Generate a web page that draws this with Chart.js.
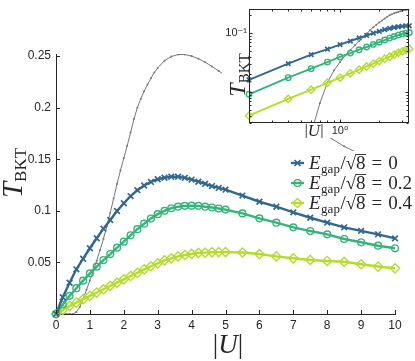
<!DOCTYPE html>
<html>
<head>
<meta charset="utf-8">
<script src="https://cdn.jsdelivr.net/npm/chart.js@4/dist/chart.umd.min.js"></script>
<style>
  body { margin: 0; background: #fff; }
  #box { position: relative; width: 415px; height: 361px; }
  canvas { position: absolute; top: 0; }
  #main { left: 0; }
  #inset { left: 222px; background: #fff; }
</style>
</head>
<body>
<div id="box">
  <canvas id="main" width="415" height="361"></canvas>
  <canvas id="inset" width="193" height="138"></canvas>
</div>
<script>
// |U| grid of the three gap series
const U_VALUES = [0, 0.2, 0.4, 0.6, 0.8, 1.0, 1.2, 1.4, 1.6, 1.8, 2.0, 2.2, 2.4, 2.6, 2.8, 3.0, 3.2, 3.4,
  3.6, 3.8, 4.0, 4.2, 4.4, 4.6, 4.8, 5.0, 5.5, 6.0, 6.5, 7.0, 7.5, 8.0, 8.5, 9.0, 9.5, 10.0];
const T_GAP_0 = [0, 0.0162, 0.0303, 0.0433, 0.0536, 0.0637, 0.0734, 0.0827, 0.0911, 0.0998, 0.1073, 0.1143,
  0.1200, 0.1245, 0.1280, 0.1306, 0.1321, 0.1330, 0.1330, 0.1320, 0.1303, 0.1282, 0.1262, 0.1240, 0.1222,
  0.1205, 0.1148, 0.1088, 0.1040, 0.0985, 0.0933, 0.0885, 0.0840, 0.0805, 0.0772, 0.0733];
const T_GAP_02 = [0, 0.0092, 0.0176, 0.0250, 0.0323, 0.0394, 0.0459, 0.0523, 0.0581, 0.0643, 0.0701, 0.0763,
  0.0822, 0.0875, 0.0925, 0.0968, 0.1000, 0.1025, 0.1040, 0.1048, 0.1050, 0.1048, 0.1040, 0.1032, 0.1022,
  0.1012, 0.0975, 0.0927, 0.0885, 0.0840, 0.0804, 0.0772, 0.0727, 0.0695, 0.0662, 0.0637];
const T_GAP_04 = [0, 0.0040, 0.0077, 0.0110, 0.0144, 0.0176, 0.0208, 0.0240, 0.0272, 0.0304, 0.0336, 0.0368,
  0.0398, 0.0432, 0.0463, 0.0490, 0.0520, 0.0540, 0.0558, 0.0572, 0.0582, 0.0592, 0.0595, 0.0598, 0.0600,
  0.0600, 0.0596, 0.0581, 0.0558, 0.0540, 0.0524, 0.0514, 0.0506, 0.0482, 0.0460, 0.0443];
// thin grey curve
const U_REF = [0, 0.1, 0.2, 0.3, 0.4, 0.5, 0.6, 0.7, 0.8, 0.9, 1.0, 1.1, 1.2, 1.3, 1.4, 1.5, 1.6, 1.7, 1.8, 1.9,
  2.0, 2.1, 2.2, 2.3, 2.4, 2.5, 2.6, 2.7, 2.8, 2.9, 3.0, 3.2, 3.4, 3.6, 3.8, 4.0, 4.2, 4.4, 4.6, 4.8, 5.0,
  5.5, 6.0, 6.5, 7.0, 7.5, 8.0, 8.5, 9.0, 9.5, 10.0];
const T_REF = [0, 0, 0, 0, 0, 0, 0.002, 0.0065, 0.0145, 0.0235, 0.0325, 0.042, 0.0515, 0.062, 0.073, 0.085,
  0.098, 0.112, 0.126, 0.139, 0.151, 0.163, 0.176, 0.189, 0.200, 0.2085, 0.216, 0.2225, 0.2285, 0.234, 0.2385,
  0.2455, 0.2495, 0.2515, 0.2515, 0.2500, 0.2475, 0.2440, 0.2400, 0.2355, 0.2310, 0.2205, 0.2105, 0.2010,
  0.1920, 0.1830, 0.1725, 0.1625, 0.1545, 0.1475, 0.1410];
const GAP_LABELS = ['0', '0.2', '0.4'];
const X_TICKS = [0, 1, 2, 3, 4, 5, 6, 7, 8, 9, 10];
const Y_TICKS = [0.05, 0.1, 0.15, 0.2, 0.25];
const INSET_X_TICKS = [1];
const INSET_X_LABELS = ['10\u2070'];
const INSET_Y_TICKS = [0.1];
const INSET_Y_LABELS = ['10\u207B\u00B9'];

const INK = '#262626';
const COLORS = ['#33678f', '#35b47a', '#b3dc2c'];
const GREY = '#777777';
const SERIF = '"Liberation Serif", "DejaVu Serif", serif';
const SANS = '"Liberation Sans", "DejaVu Sans", sans-serif';
const MARKERS = [
  { style: 'crossRot', r: 4.0, bw: 1.7 },
  { style: 'circle', r: 3.4, bw: 1.4 },
  { style: 'rectRot', r: 4.6, bw: 1.4 }
];

function pts(xs, ys, keep) {
  return xs.map((x, i) => ({ x: x, y: ys[i] })).filter(p => !keep || keep(p));
}

function seriesSets(keep, k) {
  const sets = [T_GAP_0, T_GAP_02, T_GAP_04].map((ys, i) => ({
    data: pts(U_VALUES, ys, keep),
    borderColor: COLORS[i],
    borderWidth: 2.4 * k,
    pointStyle: MARKERS[i].style,
    pointRadius: MARKERS[i].r * k,
    pointBorderWidth: MARKERS[i].bw,
    pointBorderColor: COLORS[i],
    pointBackgroundColor: 'rgba(0,0,0,0)',
    clip: false
  }));
  sets.push({
    data: pts(U_REF, T_REF, keep),
    borderColor: GREY,
    borderWidth: 1,
    pointRadius: 1,
    pointBorderWidth: 0,
    pointBackgroundColor: GREY
  });
  return sets;
}

function seg(ctx, x1, y1, x2, y2) {
  ctx.beginPath(); ctx.moveTo(x1, y1); ctx.lineTo(x2, y2); ctx.stroke();
}

function put(ctx, s, font, x, y) {
  ctx.font = font;
  ctx.fillText(s, x, y);
  return x + ctx.measureText(s).width;
}

function runsWidth(ctx, runs) {
  return runs.reduce((w, r) => { ctx.font = r[1]; return w + ctx.measureText(r[0]).width; }, 0);
}

// draw text pieces [text, font, dy] centred on cx
function drawRuns(ctx, runs, cx, base) {
  let x = cx - runsWidth(ctx, runs) / 2;
  runs.forEach(r => { x = put(ctx, r[0], r[1], x, base + r[2]); });
}

function marker(ctx, i, x, y, r) {
  ctx.strokeStyle = COLORS[i];
  ctx.lineWidth = MARKERS[i].bw;
  ctx.beginPath();
  if (i === 0) {
    const d = r * 0.75;
    ctx.moveTo(x - d, y - d); ctx.lineTo(x + d, y + d);
    ctx.moveTo(x - d, y + d); ctx.lineTo(x + d, y - d);
  } else if (i === 1) {
    ctx.arc(x, y, r, 0, Math.PI * 2);
  } else {
    ctx.moveTo(x, y - r); ctx.lineTo(x + r, y); ctx.lineTo(x, y + r); ctx.lineTo(x - r, y); ctx.closePath();
  }
  ctx.stroke();
}

function legendText(ctx, x, base, value) {
  const big = '19px ' + SERIF;
  ctx.fillStyle = INK;
  x = put(ctx, 'E', 'italic ' + big, x, base);
  x = put(ctx, 'gap', '13px ' + SERIF, x + 0.5, base + 4);
  x = put(ctx, '/', big, x + 0.5, base);
  x = put(ctx, '\u221A', big, x, base);
  ctx.font = big;
  const top = Math.round(base - ctx.measureText('\u221A').actualBoundingBoxAscent) + 0.5;
  const x8 = x;
  x = put(ctx, '8', big, x, base);
  ctx.strokeStyle = INK; ctx.lineWidth = 0.9;
  seg(ctx, x8 - 0.5, top, x + 0.5, top);
  x = put(ctx, '=', big, x + 6, base);
  put(ctx, value, big, x + 6, base);
}

const mainDecor = {
  id: 'mainDecor',
  afterDraw(chart) {
    const { ctx, chartArea: a, scales: { x, y } } = chart;
    ctx.save();
    ctx.strokeStyle = INK; ctx.lineWidth = 1;
    X_TICKS.forEach(v => { const p = Math.round(x.getPixelForValue(v)) + 0.5; seg(ctx, p, a.bottom, p, a.bottom - 4); });
    Y_TICKS.forEach(v => { const p = Math.round(y.getPixelForValue(v)) + 0.5; seg(ctx, a.left, p, a.left + 4, p); });

    ctx.fillStyle = INK; ctx.textAlign = 'left'; ctx.textBaseline = 'alphabetic';
    drawRuns(ctx, [['|', '27px ' + SERIF, 0], ['U', 'italic 27px ' + SERIF, 0], ['|', '27px ' + SERIF, 0]], 228, 353);
    ctx.save();
    ctx.translate(22, 173);
    ctx.rotate(-Math.PI / 2);
    drawRuns(ctx, [['T', 'italic 29px ' + SERIF, 0], ['BKT', '17px ' + SERIF, 4]], 0, 0);
    ctx.restore();

    // legend
    ctx.fillStyle = '#fff';
    ctx.fillRect(286, 151, 129, 57);
    GAP_LABELS.forEach((lab, i) => {
      const cy = 163 + 20 * i;
      ctx.strokeStyle = COLORS[i]; ctx.lineWidth = 2.4;
      seg(ctx, 291, cy, 304, cy);
      marker(ctx, i, 297.5, cy, MARKERS[i].r);
      legendText(ctx, 309, cy + 6, lab);
    });
    ctx.restore();
  }
};

function logTicks(min, max) {
  const out = [];
  for (let e = Math.floor(Math.log10(min)); e <= Math.ceil(Math.log10(max)); e++) {
    for (let m = 1; m < 10; m++) {
      const v = m * Math.pow(10, e);
      if (v >= min * 0.999 && v <= max * 1.001) out.push({ v: v, major: m === 1 });
    }
  }
  return out;
}

const insetDecor = {
  id: 'insetDecor',
  afterDraw(chart) {
    const { ctx, chartArea: a, scales: { x, y } } = chart;
    ctx.save();
    ctx.strokeStyle = INK; ctx.lineWidth = 1;
    const L = Math.round(a.left) + 0.5, R = Math.round(a.right) - 0.5;
    const T = Math.round(a.top) + 0.5, B = Math.round(a.bottom) - 0.5;
    ctx.strokeRect(L, T, R - L, B - T);
    logTicks(x.min, x.max).forEach(t => {
      const p = Math.round(x.getPixelForValue(t.v)) + 0.5, n = t.major ? 3 : 2;
      seg(ctx, p, B, p, B - n); seg(ctx, p, T, p, T + n);
    });
    logTicks(y.min, y.max).forEach(t => {
      const p = Math.round(y.getPixelForValue(t.v)) + 0.5, n = t.major ? 3 : 2;
      seg(ctx, L, p, L + n, p); seg(ctx, R, p, R - n, p);
    });

    ctx.fillStyle = INK; ctx.textAlign = 'left'; ctx.textBaseline = 'alphabetic';
    drawRuns(ctx, [['|', '17px ' + SERIF, 0], ['U', 'italic 17px ' + SERIF, 0], ['|', '17px ' + SERIF, 0]], 92, 136);
    ctx.save();
    ctx.translate(23, 75);
    ctx.rotate(-Math.PI / 2);
    drawRuns(ctx, [['T', 'italic 24px ' + SERIF, 0], ['BKT', '15px ' + SERIF, 3.5]], 0, 0);
    ctx.restore();
    ctx.restore();
  }
};

const tickFont = { family: SANS, size: 12 };

new Chart(document.getElementById('main'), {
  type: 'line',
  data: { datasets: seriesSets(null, 1) },
  options: {
    responsive: false, animation: false, devicePixelRatio: 1,
    layout: { padding: { top: 54, right: 20, left: 0, bottom: 0 } },
    plugins: { legend: { display: false }, tooltip: { enabled: false } },
    scales: {
      x: {
        type: 'linear', min: 0, max: 10,
        afterBuildTicks: s => { s.ticks = X_TICKS.map(v => ({ value: v })); },
        afterFit: s => { s.height = 47; },
        ticks: { font: tickFont, color: INK, padding: 4, autoSkip: false, maxRotation: 0, callback: v => String(v) },
        grid: { display: false, drawTicks: false },
        border: { color: INK, width: 1 }
      },
      y: {
        type: 'linear', min: 0, max: 0.252,
        afterBuildTicks: s => { s.ticks = Y_TICKS.map(v => ({ value: v })); },
        afterFit: s => { s.width = 56; },
        ticks: { font: tickFont, color: INK, padding: 5, autoSkip: false, callback: v => String(v) },
        grid: { display: false, drawTicks: false },
        border: { color: INK, width: 1 }
      }
    }
  },
  plugins: [mainDecor]
});

new Chart(document.getElementById('inset'), {
  type: 'line',
  data: { datasets: seriesSets(p => p.x >= 0.2 && p.x <= 3.4 && p.y > 0, 0.8) },
  options: {
    responsive: false, animation: false, devicePixelRatio: 1,
    layout: { padding: { top: 7, right: 5, left: 0, bottom: 0 } },
    plugins: { legend: { display: false }, tooltip: { enabled: false } },
    scales: {
      x: {
        type: 'logarithmic', min: 0.2, max: 3.4,
        afterBuildTicks: s => { s.ticks = INSET_X_TICKS.map(v => ({ value: v })); },
        afterFit: s => { s.height = 15; },
        ticks: { font: { family: SANS, size: 11 }, color: INK, padding: 1, autoSkip: false, maxRotation: 0,
                 callback: (v, i) => INSET_X_LABELS[i] },
        grid: { display: false, drawTicks: false },
        border: { display: false }
      },
      y: {
        type: 'logarithmic', min: 0.003, max: 0.26,
        afterBuildTicks: s => { s.ticks = INSET_Y_TICKS.map(v => ({ value: v })); },
        afterFit: s => { s.width = 27; },
        ticks: { font: { family: SANS, size: 11 }, color: INK, padding: 2, autoSkip: false,
                 callback: (v, i) => INSET_Y_LABELS[i] },
        grid: { display: false, drawTicks: false },
        border: { display: false }
      }
    }
  },
  plugins: [insetDecor]
});
</script>
</body>
</html>
